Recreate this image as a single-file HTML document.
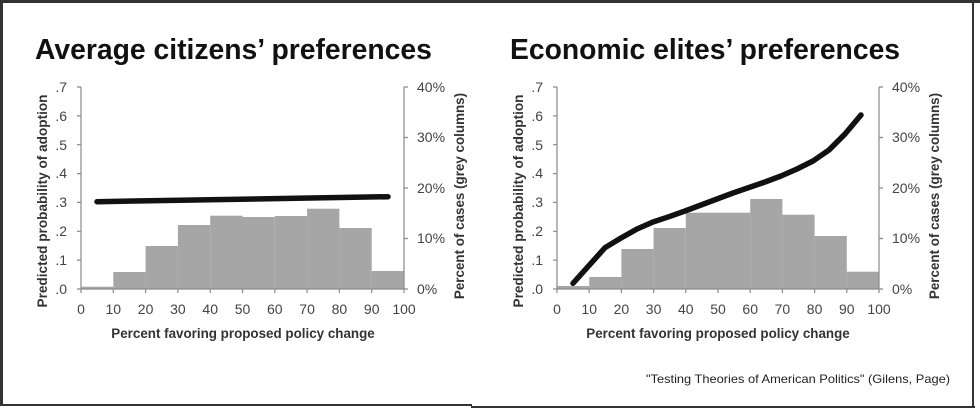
<!DOCTYPE html>
<html><head><meta charset="utf-8"><style>
html,body{margin:0;padding:0;background:#fff;}
svg{display:block;}
text{font-family:"Liberation Sans",sans-serif;}
</style></head><body>
<svg width="980" height="412" viewBox="0 0 980 412" xmlns="http://www.w3.org/2000/svg">
<rect width="980" height="412" fill="#fff"/>
<rect x="0" y="0" width="980" height="3" fill="#333"/>
<rect x="0" y="0" width="3" height="406" fill="#333"/>
<rect x="0" y="404" width="472" height="2" fill="#333"/>
<rect x="471" y="406" width="504" height="2" fill="#333"/>
<rect x="972" y="0" width="2" height="408" fill="#333"/>

<text x="35" y="59" font-size="28.3" font-weight="bold" fill="#111">Average citizens’ preferences</text>
<text x="510" y="59" font-size="28.3" font-weight="bold" fill="#111">Economic elites’ preferences</text>

<g>
<g fill="#a6a6a6">
<rect x="81" y="286.7" width="32.3" height="2.3"/>
<rect x="113.3" y="272" width="32.3" height="17"/>
<rect x="145.6" y="246" width="32.3" height="43"/>
<rect x="177.9" y="225" width="32.3" height="64"/>
<rect x="210.2" y="215.7" width="32.3" height="73.3"/>
<rect x="242.5" y="217" width="32.3" height="72"/>
<rect x="274.8" y="216" width="32.3" height="73"/>
<rect x="307.1" y="208.7" width="32.3" height="80.3"/>
<rect x="339.4" y="228" width="32.3" height="61"/>
<rect x="371.7" y="271" width="32.3" height="18"/>
</g>
<g stroke="#8a8a8a" stroke-width="1.2" fill="none">
<line x1="81" y1="87" x2="81" y2="289"/>
<line x1="81" y1="289" x2="404" y2="289"/>
<line x1="404" y1="87" x2="404" y2="289"/>
<path d="M77 87H81M77 115.9H81M77 144.7H81M77 173.6H81M77 202.4H81M77 231.3H81M77 260.1H81M77 289H81"/>
<path d="M404 87H408M404 137.5H408M404 188H408M404 238.5H408M404 289H408"/>
<path d="M81 289V293M113.3 289V293M145.6 289V293M177.9 289V293M210.2 289V293M242.5 289V293M274.8 289V293M307.1 289V293M339.4 289V293M371.7 289V293M404 289V293"/>
</g>
<line x1="97" y1="201.7" x2="388" y2="196.7" stroke="#111" stroke-width="5.5" stroke-linecap="round"/>
<g font-size="14" fill="#444" text-anchor="end">
<text x="67" y="92">.7</text><text x="67" y="121">.6</text><text x="67" y="150">.5</text><text x="67" y="178">.4</text><text x="67" y="207">.3</text><text x="67" y="236">.2</text><text x="67" y="265">.1</text><text x="67" y="294">.0</text>
</g>
<g font-size="14" fill="#444" text-anchor="start">
<text x="417" y="92">40%</text><text x="417" y="142">30%</text><text x="417" y="193">20%</text><text x="417" y="243">10%</text><text x="417" y="294">0%</text>
</g>
<g font-size="14" fill="#444" text-anchor="middle">
<text x="81" y="314">0</text><text x="113.3" y="314">10</text><text x="145.6" y="314">20</text><text x="177.9" y="314">30</text><text x="210.2" y="314">40</text><text x="242.5" y="314">50</text><text x="274.8" y="314">60</text><text x="307.1" y="314">70</text><text x="339.4" y="314">80</text><text x="371.7" y="314">90</text><text x="404" y="314">100</text>
</g>
<text x="243" y="338" font-size="13.4" font-weight="bold" fill="#333" text-anchor="middle">Percent favoring proposed policy change</text>
<text transform="translate(47,201) rotate(-90)" font-size="13.6" font-weight="bold" fill="#333" text-anchor="middle">Predicted probability of adoption</text>
<text transform="translate(464,196) rotate(-90)" font-size="13.4" font-weight="bold" fill="#333" text-anchor="middle">Percent of cases (grey columns)</text>
</g>

<g>
<g fill="#a6a6a6">
<rect x="557" y="286" width="32.2" height="2.7"/>
<rect x="589.2" y="277" width="32.2" height="11.7"/>
<rect x="621.4" y="249" width="32.2" height="39.7"/>
<rect x="653.6" y="228" width="32.2" height="60.7"/>
<rect x="685.8" y="212.7" width="32.2" height="76"/>
<rect x="718" y="212.7" width="32.2" height="76"/>
<rect x="750.2" y="199" width="32.2" height="89.7"/>
<rect x="782.4" y="214.7" width="32.2" height="74"/>
<rect x="814.6" y="236" width="32.2" height="52.7"/>
<rect x="846.8" y="271.7" width="32.2" height="17"/>
</g>
<g stroke="#8a8a8a" stroke-width="1.2" fill="none">
<line x1="557" y1="87" x2="557" y2="289"/>
<line x1="557" y1="289" x2="879" y2="289"/>
<line x1="879" y1="87" x2="879" y2="289"/>
<path d="M553 87H557M553 115.9H557M553 144.7H557M553 173.6H557M553 202.4H557M553 231.3H557M553 260.1H557M553 289H557"/>
<path d="M879 87H883M879 137.5H883M879 188H883M879 238.5H883M879 289H883"/>
<path d="M557 289V293M589.2 289V293M621.4 289V293M653.6 289V293M685.8 289V293M718 289V293M750.2 289V293M782.4 289V293M814.6 289V293M846.8 289V293M879 289V293"/>
</g>
<polyline points="573,283.3 605,247.7 621,238 637,229 653,222 669,216.7 685,211 701,205 717,199 733,193 749,187.5 765,182 781,176 797,169 813,161 829,150 845,134 861,115" fill="none" stroke="#111" stroke-width="5.5" stroke-linecap="round" stroke-linejoin="round"/>
<g font-size="14" fill="#444" text-anchor="end">
<text x="543" y="92">.7</text><text x="543" y="121">.6</text><text x="543" y="150">.5</text><text x="543" y="178">.4</text><text x="543" y="207">.3</text><text x="543" y="236">.2</text><text x="543" y="265">.1</text><text x="543" y="294">.0</text>
</g>
<g font-size="14" fill="#444" text-anchor="start">
<text x="892" y="92">40%</text><text x="892" y="142">30%</text><text x="892" y="193">20%</text><text x="892" y="243">10%</text><text x="892" y="294">0%</text>
</g>
<g font-size="14" fill="#444" text-anchor="middle">
<text x="557" y="314">0</text><text x="589.2" y="314">10</text><text x="621.4" y="314">20</text><text x="653.6" y="314">30</text><text x="685.8" y="314">40</text><text x="718" y="314">50</text><text x="750.2" y="314">60</text><text x="782.4" y="314">70</text><text x="814.6" y="314">80</text><text x="846.8" y="314">90</text><text x="879" y="314">100</text>
</g>
<text x="718" y="338" font-size="13.4" font-weight="bold" fill="#333" text-anchor="middle">Percent favoring proposed policy change</text>
<text transform="translate(523,201) rotate(-90)" font-size="13.6" font-weight="bold" fill="#333" text-anchor="middle">Predicted probability of adoption</text>
<text transform="translate(939,196) rotate(-90)" font-size="13.4" font-weight="bold" fill="#333" text-anchor="middle">Percent of cases (grey columns)</text>
</g>

<text x="950" y="383" font-size="12" fill="#222" text-anchor="end" textLength="304" lengthAdjust="spacingAndGlyphs">"Testing Theories of American Politics" (Gilens, Page)</text>
</svg>
</body></html>
